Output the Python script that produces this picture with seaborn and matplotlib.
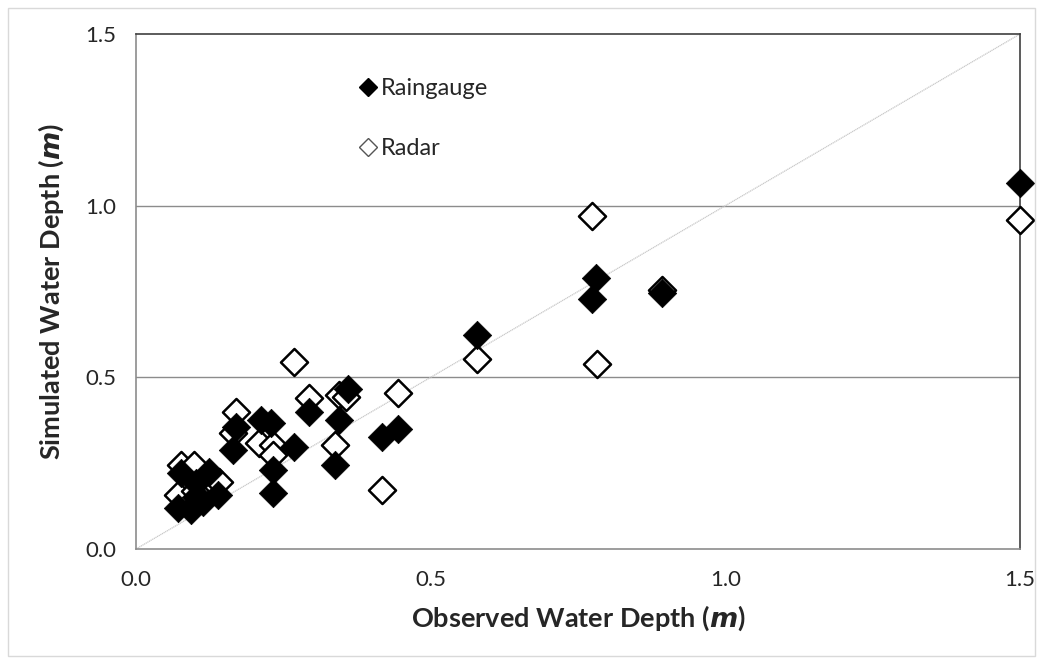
import matplotlib
matplotlib.use("Agg")
import matplotlib.pyplot as plt
import seaborn as sns
import pandas as pd
from matplotlib.lines import Line2D
from matplotlib.patches import Rectangle

# observed vs simulated water depth (m)
rain_obs = [1.50, 0.892, 0.781, 0.773, 0.578, 0.359, 0.344, 0.293, 0.417, 0.444,
            0.337, 0.268, 0.212, 0.229, 0.232, 0.232, 0.170, 0.164,
            0.076, 0.124, 0.102, 0.102, 0.139, 0.071, 0.093, 0.114]
rain_sim = [1.066, 0.746, 0.789, 0.728, 0.623, 0.466, 0.376, 0.400, 0.326, 0.350,
            0.245, 0.297, 0.376, 0.367, 0.230, 0.163, 0.356, 0.288,
            0.221, 0.224, 0.192, 0.151, 0.157, 0.119, 0.114, 0.137]
radar_obs = [1.50, 0.892, 0.773, 0.783, 0.578, 0.268, 0.444, 0.344, 0.356, 0.417,
             0.337, 0.293, 0.208, 0.232, 0.232, 0.170, 0.164,
             0.076, 0.098, 0.141, 0.071, 0.100]
radar_sim = [0.958, 0.754, 0.970, 0.539, 0.553, 0.545, 0.454, 0.449, 0.443, 0.172,
             0.303, 0.440, 0.309, 0.303, 0.274, 0.400, 0.338,
             0.245, 0.245, 0.195, 0.157, 0.170]
ticks = [0.0, 0.5, 1.0, 1.5]

df_rain = pd.DataFrame({"obs": rain_obs, "sim": rain_sim})
df_radar = pd.DataFrame({"obs": radar_obs, "sim": radar_sim})

sns.set_style("white")
plt.rcParams['font.family'] = ['Lato', 'DejaVu Sans']

fig = plt.figure(figsize=(10.43, 6.64), dpi=100)
ax = fig.add_axes([0.1304, 0.1732, 0.8476, 0.7756])

# outer chart border
fig.patches.append(Rectangle((0.008, 0.012), 0.984, 0.976, transform=fig.transFigure,
                             fill=False, edgecolor='#d9d9d9', linewidth=1.0))

for y in [0.5, 1.0]:
    ax.axhline(y, color='#8c8c8c', linewidth=1.0, zorder=0)

# 1:1 line
ax.plot([0, 1.5], [0, 1.5], color='#c8c8c8', linewidth=0.9, linestyle=(0, (1, 0.5)), zorder=1)

sns.scatterplot(data=df_radar, x="obs", y="sim", marker='D', s=190, color='white',
                edgecolor='black', linewidth=1.8, ax=ax, zorder=3, clip_on=False)
sns.scatterplot(data=df_rain, x="obs", y="sim", marker='D', s=210, color='black',
                edgecolor='black', linewidth=0.5, ax=ax, zorder=4, clip_on=False)

ax.set_xlim(0, 1.5)
ax.set_ylim(0, 1.5)
ax.set_xticks(ticks)
ax.set_yticks(ticks)
ax.set_xticklabels([f"{t:.1f}" for t in ticks], fontsize=16, color='#262626')
ax.set_yticklabels([f"{t:.1f}" for t in ticks], fontsize=16, color='#262626')
ax.tick_params(axis='both', direction='out', length=6, width=1, color='#8c8c8c', pad=8)
ax.tick_params(axis='x', pad=9)

for side in ['left', 'bottom']:
    ax.spines[side].set_color('#8c8c8c')
    ax.spines[side].set_linewidth(1.2)
for side in ['top', 'right']:
    ax.spines[side].set_color('#404040')
    ax.spines[side].set_linewidth(1.2)

ax.set_xlabel("Observed Water Depth ($\\mathbfit{m}$)", fontsize=19.5, fontweight='bold', labelpad=10)
ax.set_ylabel("Simulated Water Depth ($\\mathbfit{m}$)", fontsize=19.5, fontweight='bold', labelpad=14)

handles = [Line2D([], [], marker='D', linestyle='none', markersize=9, markerfacecolor='black',
                  markeredgecolor='black'),
           Line2D([], [], marker='D', linestyle='none', markersize=9, markerfacecolor='white',
                  markeredgecolor='#555555', markeredgewidth=1.0)]
ax.legend(handles, ["Raingauge", "Radar"], loc='upper left', bbox_to_anchor=(0.225, 0.955),
          frameon=False, fontsize=17, handletextpad=0.05, handlelength=1.0, labelspacing=1.65)

fig.savefig("out.png", dpi=100)
